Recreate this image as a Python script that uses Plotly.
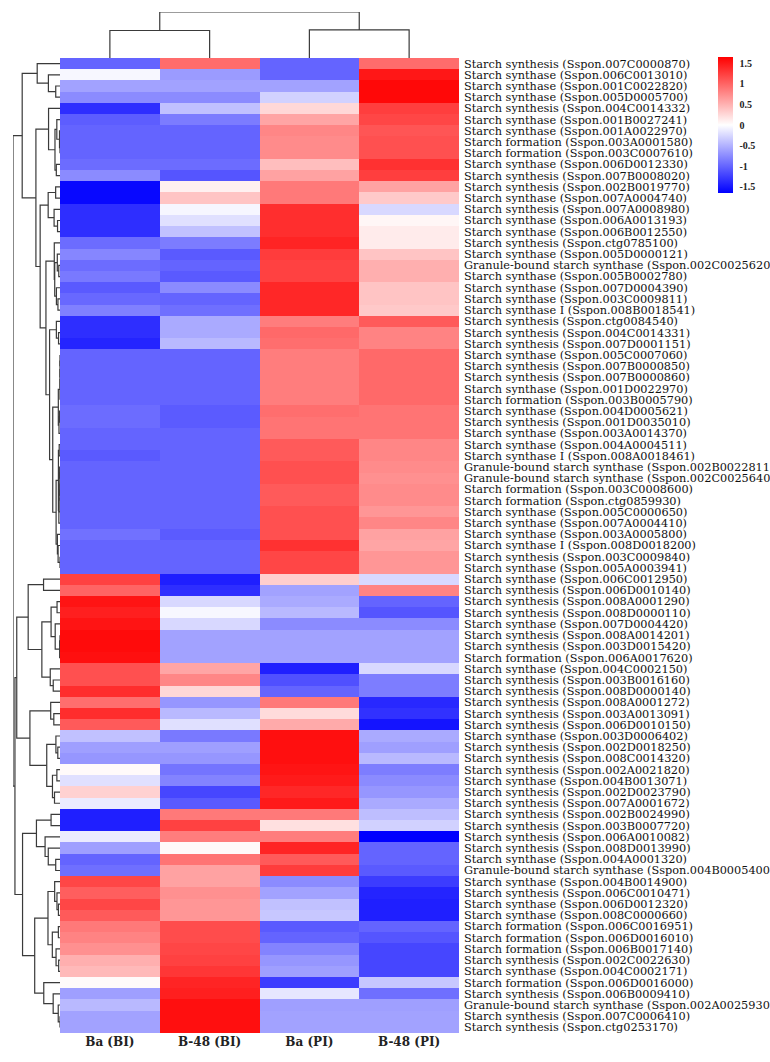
import numpy as np
import plotly.graph_objects as go

genes = [
    "Starch synthesis (Sspon.007C0000870)",
    "Starch synthase (Sspon.006C0013010)",
    "Starch synthase (Sspon.001C0022820)",
    "Starch synthase (Sspon.005D0005700)",
    "Starch synthesis (Sspon.004C0014332)",
    "Starch synthase (Sspon.001B0027241)",
    "Starch synthase (Sspon.001A0022970)",
    "Starch formation (Sspon.003A0001580)",
    "Starch formation (Sspon.003C0007610)",
    "Starch synthase (Sspon.006D0012330)",
    "Starch synthesis (Sspon.007B0008020)",
    "Starch synthesis (Sspon.002B0019770)",
    "Starch synthase (Sspon.007A0004740)",
    "Starch synthesis (Sspon.007A0008980)",
    "Starch synthase (Sspon.006A0013193)",
    "Starch synthase (Sspon.006B0012550)",
    "Starch synthesis (Sspon.ctg0785100)",
    "Starch synthase (Sspon.005D0000121)",
    "Granule-bound starch synthase (Sspon.002C0025620)",
    "Starch synthase (Sspon.005B0002780)",
    "Starch synthase (Sspon.007D0004390)",
    "Starch synthase (Sspon.003C0009811)",
    "Starch synthase I (Sspon.008B0018541)",
    "Starch synthesis (Sspon.ctg0084540)",
    "Starch synthesis (Sspon.004C0014331)",
    "Starch synthesis (Sspon.007D0001151)",
    "Starch synthase (Sspon.005C0007060)",
    "Starch synthesis (Sspon.007B0000850)",
    "Starch synthesis (Sspon.007B0000860)",
    "Starch synthase (Sspon.001D0022970)",
    "Starch formation (Sspon.003B0005790)",
    "Starch synthase (Sspon.004D0005621)",
    "Starch synthesis (Sspon.001D0035010)",
    "Starch synthase (Sspon.003A0014370)",
    "Starch synthase (Sspon.004A0004511)",
    "Starch synthase I (Sspon.008A0018461)",
    "Granule-bound starch synthase (Sspon.002B0022811)",
    "Granule-bound starch synthase (Sspon.002C0025640)",
    "Starch formation (Sspon.003C0008600)",
    "Starch formation (Sspon.ctg0859930)",
    "Starch synthase (Sspon.005C0000650)",
    "Starch synthase (Sspon.007A0004410)",
    "Starch synthase (Sspon.003A0005800)",
    "Starch synthase I (Sspon.008D0018200)",
    "Starch synthesis (Sspon.003C0009840)",
    "Starch synthase (Sspon.005A0003941)",
    "Starch synthase (Sspon.006C0012950)",
    "Starch synthesis (Sspon.006D0010140)",
    "Starch synthesis (Sspon.008A0001290)",
    "Starch synthesis (Sspon.008D0000110)",
    "Starch synthase (Sspon.007D0004420)",
    "Starch synthesis (Sspon.008A0014201)",
    "Starch synthesis (Sspon.003D0015420)",
    "Starch formation (Sspon.006A0017620)",
    "Starch synthase (Sspon.004C0002150)",
    "Starch synthesis (Sspon.003B0016160)",
    "Starch synthesis (Sspon.008D0000140)",
    "Starch synthesis (Sspon.008A0001272)",
    "Starch synthesis (Sspon.003A0013091)",
    "Starch synthesis (Sspon.006D0010150)",
    "Starch synthase (Sspon.003D0006402)",
    "Starch synthesis (Sspon.002D0018250)",
    "Starch synthesis (Sspon.008C0014320)",
    "Starch synthesis (Sspon.002A0021820)",
    "Starch synthase (Sspon.004B0013071)",
    "Starch synthesis (Sspon.002D0023790)",
    "Starch synthesis (Sspon.007A0001672)",
    "Starch synthesis (Sspon.002B0024990)",
    "Starch synthesis (Sspon.003B0007720)",
    "Starch synthesis (Sspon.006A0010082)",
    "Starch synthesis (Sspon.008D0013990)",
    "Starch synthase (Sspon.004A0001320)",
    "Granule-bound starch synthase (Sspon.004B0005400)",
    "Starch synthase (Sspon.004B0014900)",
    "Starch synthesis (Sspon.006C0010471)",
    "Starch synthase (Sspon.006D0012320)",
    "Starch synthase (Sspon.008C0000660)",
    "Starch formation (Sspon.006C0016951)",
    "Starch formation (Sspon.006D0016010)",
    "Starch formation (Sspon.006B0017140)",
    "Starch synthesis (Sspon.002C0022630)",
    "Starch synthase (Sspon.004C0002171)",
    "Starch formation (Sspon.006D0016000)",
    "Starch synthesis (Sspon.006B0009410)",
    "Granule-bound starch synthase (Sspon.002A0025930)",
    "Starch synthesis (Sspon.007C0006410)",
    "Starch synthesis (Sspon.ctg0253170)",
]

samples = ["Ba (BI)", "B-48 (BI)", "Ba (PI)", "B-48 (PI)"]

ba_bi = [
    -1.0, -0.05, -0.6, -0.75, -1.35, -1.05, -1.0, -1.0, -1.0, -0.95,
    -0.75, -1.6, -1.6, -1.35, -1.35, -1.35, -0.95, -0.78, -0.95, -0.87,
    -1.07, -0.98, -0.82, -1.35, -1.35, -1.42, -1.0, -1.0, -1.0, -1.0,
    -1.0, -0.95, -0.95, -1.0, -1.0, -1.07, -1.0, -1.0, -1.0, -1.0,
    -1.0, -1.0, -0.92, -1.0, -1.0, -1.0, 1.23, 1.0, 1.52, 1.45,
    1.52, 1.58, 1.58, 1.55, 1.13, 1.13, 1.36, 0.94, 1.36, 1.07,
    -0.4, -0.62, -0.68, 0.03, -0.2, 0.3, -0.13, -1.45, -1.45, -0.13,
    -0.62, -1.0, -0.93, 1.2, 1.04, 1.2, 1.07, 0.87, 0.8, 0.72,
    0.52, 0.45, 0.03, -0.62, -0.45, -0.6, -0.6,
]
b48_bi = [
    0.95, -0.65, -0.6, -0.75, -0.4, -0.85, -1.0, -1.0, -1.0, -0.95,
    -1.1, 0.1, 0.38, -0.06, -0.2, -0.4, -0.85, -1.07, -1.0, -1.07,
    -0.75, -1.0, -0.93, -0.55, -0.55, -0.45, -1.0, -1.0, -1.0, -1.0,
    -1.0, -1.06, -1.06, -1.0, -1.0, -1.0, -1.0, -1.0, -1.0, -1.0,
    -1.0, -1.0, -1.06, -1.0, -1.0, -1.0, -1.45, -1.35, -0.25, -0.05,
    -0.25, -0.6, -0.6, -0.6, 0.58, 0.78, 0.26, -0.68, -0.45, -0.2,
    -0.87, -0.62, -0.68, -0.9, -0.8, -1.2, -1.07, 0.87, 1.23, 0.84,
    0.03, 0.9, 0.6, 0.6, 0.72, 0.68, 0.68, 1.16, 1.16, 1.2,
    1.23, 1.3, 1.42, 1.45, 1.55, 1.55, 1.55,
]
ba_pi = [
    -1.0, -1.0, -0.6, -0.3, 0.25, 0.58, 0.78, 0.75, 0.75, 0.42,
    0.6, 0.87, 0.87, 1.35, 1.35, 1.35, 1.42, 1.26, 1.23, 1.23,
    1.4, 1.4, 1.4, 0.84, 0.97, 0.94, 0.84, 0.84, 0.84, 0.84,
    0.84, 0.94, 0.9, 0.9, 1.07, 1.07, 1.13, 1.13, 1.07, 1.07,
    1.13, 1.13, 1.13, 1.33, 1.2, 1.2, 0.32, -0.6, -0.55, -0.45,
    -0.75, -0.6, -0.6, -0.6, -1.45, -1.13, -1.0, 0.87, 0.23, 0.55,
    1.55, 1.55, 1.55, 1.52, 1.48, 1.4, 1.48, 0.87, 0.2, 0.84,
    1.42, 1.07, 1.26, -0.75, -0.6, -0.4, -0.36, -1.07, -1.0, -0.8,
    -0.68, -0.62, -1.26, -0.16, -0.62, -0.6, -0.6,
]
b48_pi = [
    0.95, 1.5, 1.6, 1.6, 1.25, 1.2, 1.1, 1.13, 1.13, 1.33,
    1.25, 0.6, 0.35, -0.25, 0.06, 0.13, 0.13, 0.38, 0.52, 0.52,
    0.38, 0.38, 0.35, 1.07, 0.8, 0.8, 0.97, 0.97, 0.97, 0.97,
    0.97, 0.9, 0.9, 0.9, 0.78, 0.78, 0.75, 0.72, 0.75, 0.75,
    0.68, 0.78, 0.6, 0.58, 0.68, 0.68, -0.25, 0.8, -1.0, -1.1,
    -0.75, -0.6, -0.6, -0.6, -0.25, -0.84, -0.84, -1.39, -1.33, -1.52,
    -0.55, -0.62, -0.45, -0.84, -0.75, -0.68, -0.55, -0.42, -0.3, -1.65,
    -1.0, -1.0, -1.07, -1.26, -1.42, -1.45, -1.45, -1.0, -1.1, -1.2,
    -1.2, -1.2, -0.36, -0.93, -0.62, -0.6, -0.6,
]

cbar_vals = [1.5, 1, 0.5, 0, -0.5, -1, -1.5]

Z = np.array([ba_bi, b48_bi, ba_pi, b48_pi], dtype=float).T  # genes x samples
n_rows, n_cols = Z.shape


def ordered_complete_linkage(M):
    """Complete-linkage (euclidean) agglomeration, merging only neighbouring
    clusters of the displayed order, so the tree matches the heatmap order."""
    D = np.sqrt(((M[:, None, :] - M[None, :, :]) ** 2).sum(-1))
    clusters = [dict(m=[i], pos=float(i), h=0.0) for i in range(len(M))]
    segs = []
    while len(clusters) > 1:
        best = None
        for k in range(len(clusters) - 1):
            a, b = clusters[k], clusters[k + 1]
            d = D[np.ix_(a["m"], b["m"])].max()
            if best is None or d < best[0] - 1e-12:
                best = (d, k)
        d, k = best
        a, b = clusters[k], clusters[k + 1]
        segs.append((a["h"], a["pos"], b["h"], b["pos"], d))
        clusters[k:k + 2] = [dict(m=a["m"] + b["m"], pos=(a["pos"] + b["pos"]) / 2, h=d)]
    return segs, clusters[0]["h"]


row_segs, row_top = ordered_complete_linkage(Z)
col_segs, col_top = ordered_complete_linkage(Z.T)

rx, ry = [], []
for ha, pa, hb, pb, h in row_segs:
    rx += [ha, h, h, hb, None]
    ry += [pa, pa, pb, pb, None]
cx, cy = [], []
for ha, pa, hb, pb, h in col_segs:
    cx += [pa, pa, pb, pb, None]
    cy += [ha, h, h, hb, None]

W, H = 770, 1062
hm_left, hm_right, hm_top, hm_bottom = 60, 459, 58, 1033

fig = go.Figure()
fig.add_trace(go.Heatmap(
    z=Z, x=list(range(n_cols)), y=list(range(n_rows)),
    colorscale=[[0, "#0000ff"], [0.5, "#ffffff"], [1, "#ff0000"]],
    zmin=-1.65, zmax=1.65,
    xaxis="x", yaxis="y",
    colorbar=dict(
        x=718 / W, xanchor="left", y=1 - 57 / H, yanchor="top",
        len=136, lenmode="pixels", thickness=15,
        xpad=0, ypad=0, outlinewidth=0,
        tickvals=cbar_vals, ticktext=[f"<b>{v:g}</b>" for v in cbar_vals],
        ticks="outside", ticklen=5, tickcolor="rgba(0,0,0,0)",
        tickfont=dict(family="Liberation Serif", size=10, color="#222"),
    ),
))
fig.add_trace(go.Scatter(x=rx, y=ry, mode="lines", xaxis="x2", yaxis="y",
                         line=dict(color="#3a3a3a", width=1.2), hoverinfo="skip", showlegend=False))
fig.add_trace(go.Scatter(x=cx, y=cy, mode="lines", xaxis="x", yaxis="y2",
                         line=dict(color="#3a3a3a", width=1.2), hoverinfo="skip", showlegend=False))

fig.update_layout(
    width=W, height=H, autosize=False,
    margin=dict(l=0, r=0, t=0, b=0, pad=0, autoexpand=False),
    paper_bgcolor="white", plot_bgcolor="white",
    showlegend=False,
    xaxis=dict(domain=[hm_left / W, hm_right / W], range=[-0.5, n_cols - 0.5],
               tickvals=list(range(n_cols)), ticktext=["<b>%s</b>" % s for s in samples],
               ticks="", showgrid=False, zeroline=False, showline=False, automargin=False,
               tickfont=dict(family="DejaVu Serif", size=12, color="#222"),
               anchor="y"),
    yaxis=dict(domain=[1 - hm_bottom / H, 1 - hm_top / H], range=[n_rows - 0.5, -0.5],
               tickvals=list(range(n_rows)), ticktext=genes, side="right", ticks="",
               ticklabelstandoff=4, automargin=False,
               showgrid=False, zeroline=False, showline=False,
               tickfont=dict(family="DejaVu Serif", size=11.3, color="#111"),
               anchor="x"),
    xaxis2=dict(domain=[13 / W, hm_left / W], range=[row_top, 0], visible=False,
                anchor="y"),
    yaxis2=dict(domain=[1 - hm_top / H, 1 - 12 / H], range=[0, col_top], visible=False,
                anchor="x"),
)

fig.write_html("out.html", config={"displayModeBar": False},
               post_script="document.body.style.margin='0';")
